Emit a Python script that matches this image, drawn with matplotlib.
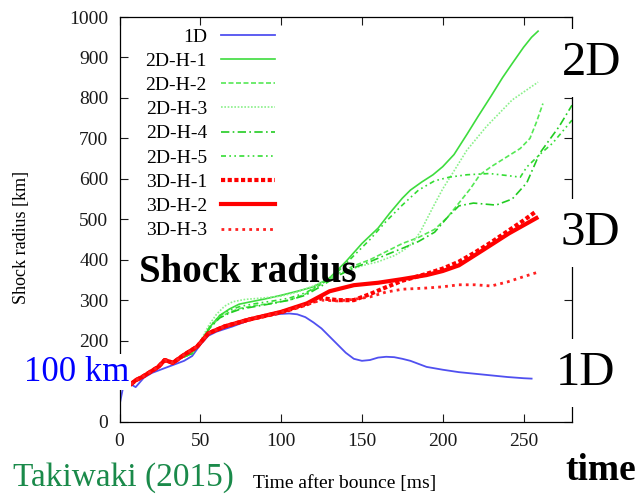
import numpy as np
import matplotlib
matplotlib.use('Agg')
from matplotlib import pyplot as plt

plt.rcParams['font.family'] = ['Liberation Serif', 'DejaVu Serif']

# 1D
t_1d = [0, 3, 7, 10, 15, 20, 30, 40, 45, 50, 55, 60, 70, 80, 90, 100, 105, 110, 115, 120, 125,
        130, 135, 140, 145, 150, 155, 160, 165, 170, 175, 180, 190, 200, 210, 220, 230, 240, 250, 255]
r_1d = [40, 100, 92, 85, 108, 120, 135, 150, 162, 190, 212, 222, 235, 250, 262, 266, 267, 265, 258, 245, 230,
        210, 190, 170, 155, 150, 152, 158, 160, 159, 155, 150, 135, 128, 122, 118, 114, 110, 107, 106]

# 2D runs
t_2d1 = [40, 45, 50, 56, 62, 68, 74, 80, 90, 100, 110, 120, 130, 140, 150, 160, 167, 175, 180, 187,
         194, 200, 207, 215, 222, 230, 237, 243, 250, 255, 259]
r_2d1 = [160, 170, 195, 234, 262, 278, 290, 295, 303, 312, 322, 333, 355, 395, 440, 478, 514, 552, 572, 592,
         610, 630, 660, 710, 755, 805, 850, 885, 925, 950, 965]
t_2d2 = [40, 45, 50, 56, 62, 68, 75, 85, 95, 105, 115, 125, 135, 145, 155, 165, 175, 185, 195, 203,
         210, 217, 223, 230, 240, 248, 254, 258, 262]
r_2d2 = [160, 168, 195, 232, 258, 270, 280, 287, 293, 300, 315, 340, 365, 385, 400, 420, 440, 455, 475, 505,
         540, 575, 610, 630, 655, 675, 700, 740, 786]
t_2d3 = [40, 45, 50, 55, 60, 65, 70, 78, 88, 100, 110, 120, 130, 140, 150, 160, 170, 176, 181, 186,
         194, 200, 206, 215, 227, 243, 259]
r_2d3 = [160, 168, 198, 236, 265, 285, 296, 302, 305, 310, 320, 335, 355, 372, 385, 395, 410, 424, 440, 468,
         530, 575, 613, 671, 729, 795, 839]
t_2d4 = [40, 45, 50, 56, 62, 68, 75, 85, 95, 105, 115, 125, 135, 145, 155, 165, 175, 185, 195, 203,
         210, 219, 233, 243, 252, 260, 272, 280]
r_2d4 = [160, 168, 195, 232, 256, 268, 278, 285, 292, 300, 312, 335, 360, 380, 395, 412, 428, 445, 468, 505,
         533, 540, 535, 550, 590, 663, 729, 782]
t_2d5 = [40, 45, 50, 56, 62, 68, 75, 85, 95, 105, 115, 125, 135, 145, 155, 165, 175, 185, 195, 204,
         215, 229, 240, 248, 252, 260, 268, 280]
r_2d5 = [160, 168, 196, 235, 262, 275, 285, 292, 298, 305, 318, 340, 370, 410, 450, 495, 535, 572, 595, 604,
         610, 613, 608, 604, 629, 660, 688, 745]

# 3D runs
t_3d1 = [7, 10, 14, 18, 24, 28, 33, 40, 48, 55, 65, 80, 100, 116, 125, 135, 145, 155, 165, 175,
         190, 200, 210, 220, 230, 240, 250, 258]
r_3d1 = [92, 102, 110, 120, 135, 152, 145, 165, 185, 218, 235, 252, 270, 290, 305, 300, 300, 315, 332, 348,
         365, 378, 395, 418, 443, 470, 497, 520]
t_3d2 = [7, 10, 14, 18, 24, 28, 33, 40, 48, 55, 65, 80, 100, 116, 130, 145, 160, 175, 190, 200,
         210, 225, 241, 258]
r_3d2 = [92, 102, 110, 120, 135, 152, 145, 165, 185, 218, 235, 252, 271, 292, 322, 337, 343, 352, 362, 372,
         386, 424, 465, 503]
t_3d3 = [7, 10, 14, 18, 24, 28, 33, 40, 48, 55, 65, 80, 100, 116, 125, 135, 145, 155, 165, 175,
         190, 200, 210, 220, 230, 240, 250, 258]
r_3d3 = [92, 102, 110, 120, 135, 152, 145, 165, 185, 218, 235, 252, 270, 290, 300, 298, 302, 308, 320, 327,
         330, 333, 338, 338, 335, 345, 358, 368]

x_ticks = [0, 50, 100, 150, 200, 250]
y_ticks = [0, 100, 200, 300, 400, 500, 600, 700, 800, 900, 1000]
y_ticklabels = ['0', '', '200', '300', '400', '500', '600', '700', '800', '900', '1000']

W, H = 637, 494
fig = plt.figure(figsize=(W / 100, H / 100), dpi=100)
ax = fig.add_axes([119.5 / W, 1 - 421.5 / H, (572 - 119.5) / W, (421.5 - 17) / H])

ax.plot(t_1d, r_1d, color='#5050f0', lw=1.3, label='1D')
ax.plot(t_2d1, r_2d1, color='#3ddc3d', lw=1.2, label='2D-H-1')
ax.plot(t_2d2, r_2d2, color='#55e855', lw=1.2, ls=(0, (3, 1.5)), label='2D-H-2')
ax.plot(t_2d3, r_2d3, color='#8af08a', lw=1.2, ls=(0, (1, 1)), label='2D-H-3')
ax.plot(t_2d4, r_2d4, color='#22cc22', lw=1.2, ls=(0, (5, 2, 1, 2)), label='2D-H-4')
ax.plot(t_2d5, r_2d5, color='#33dd33', lw=1.2, ls=(0, (3, 2, 1, 2, 1, 2)), label='2D-H-5')
ax.plot(t_3d1, r_3d1, color='#ff0000', lw=3, ls=(0, (1, 0.6)), label='3D-H-1')
ax.plot(t_3d2, r_3d2, color='#ff0000', lw=3, label='3D-H-2')
ax.plot(t_3d3, r_3d3, color='#ff2020', lw=2, ls=(0, (1, 1.5)), label='3D-H-3')

ax.set_xlim(0, 280)
ax.set_ylim(0, 1000)
ax.set_xticks(x_ticks)
ax.set_yticks(y_ticks)
ax.set_yticklabels(y_ticklabels)
ax.tick_params(direction='in', top=True, right=True, length=6, width=0.8,
               labelsize=14, pad=8, colors='#1a1a1a')
for s in ax.spines.values():
    s.set_linewidth(0.9)

leg = ax.legend(loc='upper right', bbox_to_anchor=(277 / W, 1 - 26 / H), bbox_transform=fig.transFigure,
                frameon=False, markerfirst=False, fontsize=14, handlelength=2.8,
                handletextpad=0.7, labelspacing=0.34, borderpad=0.1, borderaxespad=0)

fig.text(22 / W, 1 - 237 / H, 'Shock radius [km]', rotation=90, fontsize=13, ha='center', va='center')
fig.text(345 / W, 1 - 483 / H, 'Time after bounce [ms]', fontsize=14, ha='center', va='center')

box = dict(facecolor='white', edgecolor='none', boxstyle='square,pad=0.25')
fig.text(592 / W, 1 - 63 / H, '2D', fontsize=35, ha='center', va='center', bbox=box)
fig.text(590 / W, 1 - 233 / H, '3D', fontsize=35, ha='center', va='center', bbox=box)
fig.text(586 / W, 1 - 373 / H, '1D', fontsize=35, ha='center', va='center', bbox=box)
fig.text(77 / W, 1 - 372 / H, '100 km', fontsize=25, color='#0000ff', ha='center', va='center',
         bbox=dict(facecolor='white', edgecolor='none', boxstyle='square,pad=0.05'))
fig.text(248 / W, 1 - 272 / H, 'Shock radius', fontsize=28, fontweight='bold', ha='center', va='center')
fig.text(601 / W, 1 - 470 / H, 'time', fontsize=27, fontweight='bold', ha='center', va='center')
fig.text(123 / W, 1 - 478 / H, 'Takiwaki (2015)', fontsize=24, color='#1a8a4a', ha='center', va='center')

fig.savefig('out.png', dpi=100)
